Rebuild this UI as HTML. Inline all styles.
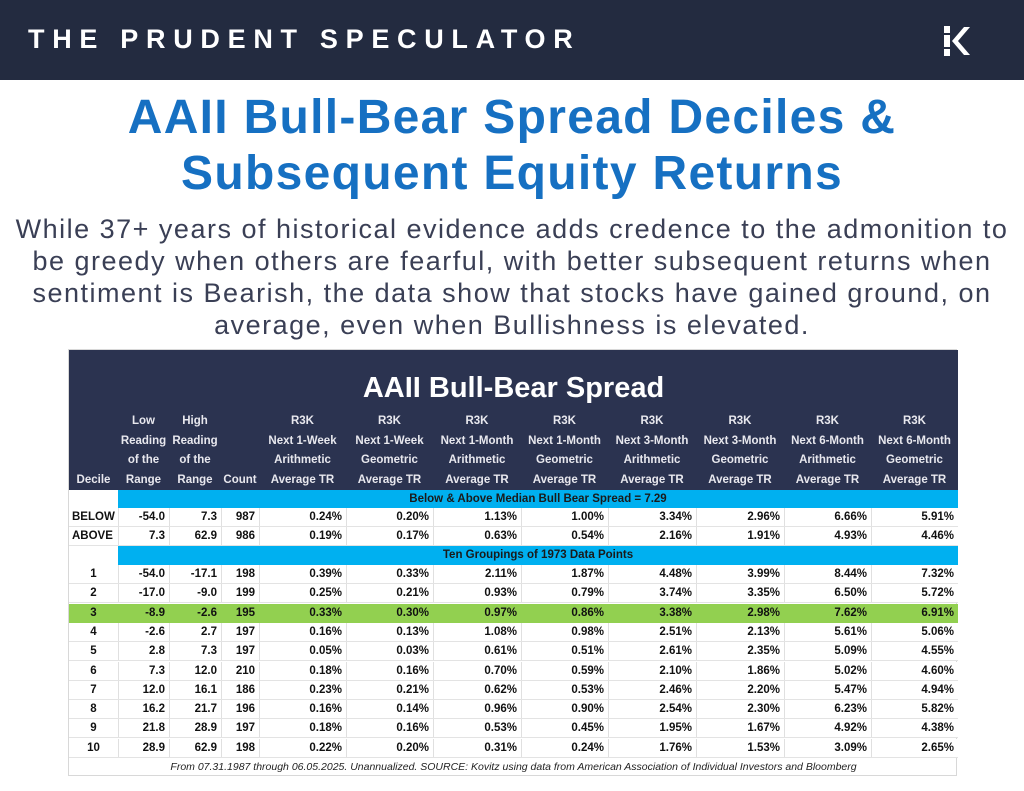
<!DOCTYPE html>
<html><head><meta charset="utf-8">
<style>
*{margin:0;padding:0;box-sizing:border-box}
body{width:1024px;height:791px;background:#fff;position:relative;overflow:hidden;font-family:"Liberation Sans",sans-serif}
#topbar{position:absolute;left:0;top:0;width:1024px;height:80px;background:#232b40}
#brand{position:absolute;left:28px;top:24px;color:#fff;font-weight:bold;font-size:27px;letter-spacing:7.7px}
#logo{position:absolute;left:942px;top:24px}
.title{position:absolute;left:0;width:1024px;text-align:center;color:#1670c2;font-weight:bold;font-size:48px;letter-spacing:1.3px}
#sub{position:absolute;left:0;top:213px;width:1024px;text-align:center;color:#3a3f55;font-size:27px;line-height:32px;letter-spacing:1.5px}
#tbl{position:absolute;left:68px;top:349px;width:889px;height:427px;background:#fff;border:1px solid #d8d8d8}
.c{position:absolute;font-size:11.5px;font-weight:bold;white-space:nowrap;line-height:19px}
</style></head><body>
<div id="topbar">
<div id="brand">THE PRUDENT SPECULATOR</div>
<svg id="logo" width="32" height="34">
<path d="M2 2 L8 2 L8 32 L2 32Z" fill="#fff"/>
<path d="M10 17 L22 3 L28 3 L16 17 L28 31 L22 31Z" fill="#fff"/>
<path d="M2 10 L8 10 M2 24 L8 24 M9 15 L17 5 M9 19 L17 29" stroke="#232b40" stroke-width="2"/>
</svg>
</div>
<div class="title" style="top:90px">AAII Bull-Bear Spread Deciles &amp;</div>
<div class="title" style="top:146px">Subsequent Equity Returns</div>
<div id="sub">While 37+ years of historical evidence adds credence to the admonition to<br>be greedy when others are fearful, with better subsequent returns when<br>sentiment is Bearish, the data show that stocks have gained ground, on<br>average, even when Bullishness is elevated.</div>
<div id="tbl"></div>
<script>
const colHeaders=[["","","","Decile"],["Low","Reading","of the","Range"],["High","Reading","of the","Range"],["","","","Count"],
["R3K","Next 1-Week","Arithmetic","Average TR"],["R3K","Next 1-Week","Geometric","Average TR"],
["R3K","Next 1-Month","Arithmetic","Average TR"],["R3K","Next 1-Month","Geometric","Average TR"],
["R3K","Next 3-Month","Arithmetic","Average TR"],["R3K","Next 3-Month","Geometric","Average TR"],
["R3K","Next 6-Month","Arithmetic","Average TR"],["R3K","Next 6-Month","Geometric","Average TR"]];
const medianLabel="Below & Above Median Bull Bear Spread = 7.29";
const groupLabel="Ten Groupings of 1973 Data Points";
const halfRows=[["BELOW","-54.0","7.3","987","0.24%","0.20%","1.13%","1.00%","3.34%","2.96%","6.66%","5.91%"],
["ABOVE","7.3","62.9","986","0.19%","0.17%","0.63%","0.54%","2.16%","1.91%","4.93%","4.46%"]];
const decileRows=[["1","-54.0","-17.1","198","0.39%","0.33%","2.11%","1.87%","4.48%","3.99%","8.44%","7.32%"],
["2","-17.0","-9.0","199","0.25%","0.21%","0.93%","0.79%","3.74%","3.35%","6.50%","5.72%"],
["3","-8.9","-2.6","195","0.33%","0.30%","0.97%","0.86%","3.38%","2.98%","7.62%","6.91%"],
["4","-2.6","2.7","197","0.16%","0.13%","1.08%","0.98%","2.51%","2.13%","5.61%","5.06%"],
["5","2.8","7.3","197","0.05%","0.03%","0.61%","0.51%","2.61%","2.35%","5.09%","4.55%"],
["6","7.3","12.0","210","0.18%","0.16%","0.70%","0.59%","2.10%","1.86%","5.02%","4.60%"],
["7","12.0","16.1","186","0.23%","0.21%","0.62%","0.53%","2.46%","2.20%","5.47%","4.94%"],
["8","16.2","21.7","196","0.16%","0.14%","0.96%","0.90%","2.54%","2.30%","6.23%","5.82%"],
["9","21.8","28.9","197","0.18%","0.16%","0.53%","0.45%","1.95%","1.67%","4.92%","4.38%"],
["10","28.9","62.9","198","0.22%","0.20%","0.31%","0.24%","1.76%","1.53%","3.09%","2.65%"]];
const highlightRow="3";
const footer="From 07.31.1987 through 06.05.2025. Unannualized. SOURCE: Kovitz using data from American Association of Individual Investors and Bloomberg";

const T=document.getElementById('tbl');
const colX=[0,49,100,152,190,277,364,452,539,627,715,802,889];
function box(x,y,w,h,bg,name){const d=document.createElement('div');d.style.cssText=`position:absolute;left:${x}px;top:${y}px;width:${w}px;height:${h}px;background:${bg}`;


T.appendChild(d);return d;}
function txt(x,y,w,s,align,color,name){const d=document.createElement('div');d.className='c';d.style.cssText+=`left:${x}px;top:${y}px;width:${w}px;text-align:${align};color:${color}`;d.textContent=s;


T.appendChild(d);return d;}
box(0,0,889,140,'#2b3350','table-header');
const tt=txt(0,21,889,'AAII Bull-Bear Spread','center','#fff','table-title');tt.style.fontSize='29px';tt.style.lineHeight='34px';
colHeaders.forEach((h,i)=>{h.forEach((s,j)=>{if(s){txt(colX[i]-3,62+j*19.5,colX[i+1]-colX[i]+6,s,'center','#e8e8ee','column-header');}})});
function band(y,label,name){box(0,y,49,19,'#fff',name+'-blank');box(49,y,840,19,'#00b0f0',name);txt(49,y,840,label,'center','#1a1a1a',name+'-label');}
function row(y,r,hl){const bg=hl?'#92d050':'#fff';box(0,y,889,19,bg,'row-'+r[0]);
if(!hl)for(let i=1;i<12;i++)box(colX[i],y,1,19,'#e0e0e0','cell-divider');
box(0,y+18,889,1,hl?'#92d050':'#e3e3e3','row-divider');
r.forEach((s,i)=>{const al=(i==0&&isNaN(+s))?'left':(i==0?'center':'right');txt(colX[i]+(al=='left'?3:0),y,colX[i+1]-colX[i]-(al=='right'?4:0),s,al,'#111','cell-'+r[0]+'-'+i);});}
band(140,medianLabel,'median-band');
halfRows.forEach((r,k)=>row(158+k*19,r,false));
band(196,groupLabel,'groupings-band');
decileRows.forEach((r,k)=>row(215+k*19.3,r,r[0]===highlightRow));
const f=txt(0,408,889,footer,'center','#222','footer-note');f.style.fontWeight='normal';f.style.fontStyle='italic';f.style.fontSize='10.5px';
</script>
</body></html>
